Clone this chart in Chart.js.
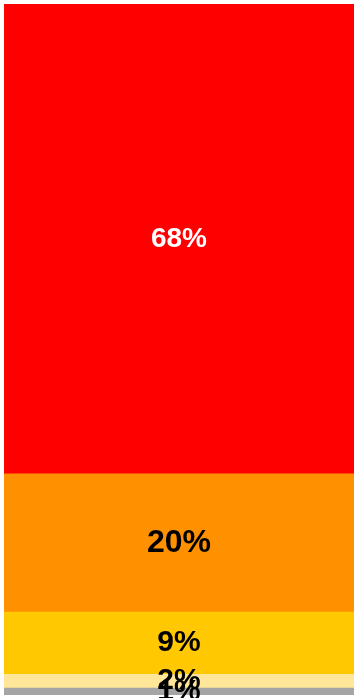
<!DOCTYPE html>
<html>
<head>
<meta charset="utf-8">
<script src="https://cdn.jsdelivr.net/npm/chart.js@4"></script>
<style>
html,body{margin:0;padding:0;background:#fff;}
#wrap{width:355px;height:698px;position:relative;}
</style>
</head>
<body>
<div id="wrap"><canvas id="c"></canvas></div>
<script>
const categories = [""];
const seriesNames = ["Gray", "Light yellow", "Yellow", "Orange", "Red"];
const seriesValues = [1, 2, 9, 20, 68];

const seriesColors = ["#A5A5A5", "#FFE699", "#FFC800", "#FF9100", "#FF0000"];
const labelColors = ["#000000", "#000000", "#000000", "#000000", "#FFFFFF"];
const labelSizes = [30, 30, 30, 32, 28];

const labelPlugin = {
  id: 'segLabels',
  afterDatasetsDraw(chart) {
    const ctx = chart.ctx;
    ctx.save();
    ctx.textAlign = 'center';
    ctx.textBaseline = 'middle';
    chart.data.datasets.forEach((ds, i) => {
      const meta = chart.getDatasetMeta(i);
      meta.data.forEach((bar, j) => {
        const v = ds.data[j];
        const y = (bar.y + bar.base) / 2;
        ctx.font = 'bold ' + labelSizes[i] + 'px "Liberation Sans", Arial, sans-serif';
        ctx.fillStyle = labelColors[i];
        ctx.fillText(Math.round(v) + '%', bar.x, y);
      });
    });
    ctx.restore();
  }
};

new Chart(document.getElementById('c'), {
  type: 'bar',
  data: {
    labels: categories,
    datasets: seriesNames.map((n, i) => ({
      label: n,
      data: [seriesValues[i]],
      backgroundColor: seriesColors[i],
      borderWidth: 0,
      categoryPercentage: 1,
      barPercentage: 1
    }))
  },
  options: {
    responsive: true,
    maintainAspectRatio: false,
    animation: false,
    layout: { padding: { left: 4, right: 1, top: 4, bottom: 3 } },
    plugins: { legend: { display: false }, tooltip: { enabled: false } },
    scales: {
      x: { stacked: true, display: false },
      y: { stacked: true, display: false, min: 0, max: 100 }
    }
  },
  plugins: [labelPlugin]
});
</script>
</body>
</html>
